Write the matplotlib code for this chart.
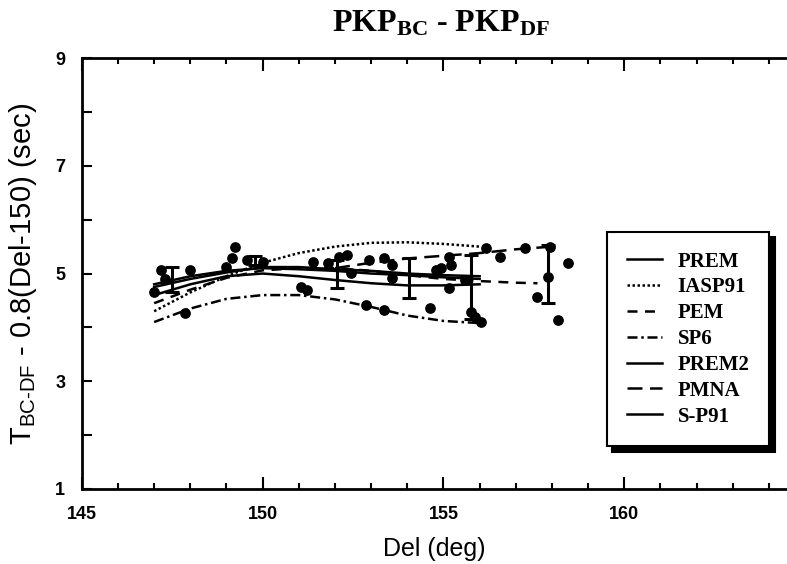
import matplotlib
matplotlib.use("Agg")
from matplotlib import pyplot as plt
from matplotlib.ticker import FixedLocator, MultipleLocator

plt.rcParams['mathtext.fontset'] = 'custom'
plt.rcParams['mathtext.bf'] = 'Liberation Serif:bold'
plt.rcParams['mathtext.sf'] = 'Liberation Sans'
plt.rcParams['mathtext.rm'] = 'Liberation Sans'

# observed differential times
obs_del = [147.0, 147.2, 147.3, 147.84, 147.98, 149.0, 149.16, 149.24, 149.57, 150.0,
           151.06, 151.23, 151.4, 151.8, 152.1, 152.33, 152.44, 152.85, 152.93, 153.35,
           153.57, 153.57, 153.35, 154.64, 154.78, 154.92, 155.14, 155.22, 155.14, 155.6,
           155.77, 155.88, 156.05, 156.18, 156.57, 157.26, 157.9, 157.6, 158.44, 158.17,
           157.95]
obs_t = [4.66, 5.07, 4.9, 4.27, 5.07, 5.12, 5.29, 5.49, 5.25, 5.22,
         4.75, 4.7, 5.22, 5.2, 5.31, 5.35, 5.01, 4.42, 5.25, 5.29,
         5.16, 4.92, 4.32, 4.36, 5.07, 5.1, 5.31, 5.16, 4.73, 4.88,
         4.29, 4.19, 4.1, 5.47, 5.31, 5.47, 4.94, 4.57, 5.2, 4.14,
         5.5]

# binned means with error bars
bin_del = [147.5, 149.8, 152.05, 154.05, 155.75, 157.9]
bin_mean = [4.89, 5.24, 4.99, 4.92, 4.75, 4.99]
bin_err = [0.23, 0.08, 0.26, 0.37, 0.6, 0.54]

# model curves
mod_del = [147, 148, 149, 150, 151, 152, 153, 154, 155, 156]
prem = [4.8, 4.95, 5.05, 5.1, 5.08, 5.05, 5.0, 4.97, 4.93, 4.9]
iasp91 = [4.3, 4.65, 4.95, 5.2, 5.38, 5.5, 5.57, 5.58, 5.55, 5.5]
pem_del = [147, 148, 149, 150, 151, 152, 153, 154, 155, 156, 157, 157.6]
pem = [4.45, 4.7, 4.92, 5.06, 5.1, 5.1, 5.05, 4.97, 4.9, 4.86, 4.83, 4.82]
sp6 = [4.1, 4.35, 4.53, 4.6, 4.6, 4.52, 4.38, 4.22, 4.12, 4.08]
prem2 = [4.6, 4.8, 4.95, 5.0, 4.95, 4.88, 4.82, 4.78, 4.78, 4.8]
pmna_del = [152, 153, 154, 155, 156, 157, 158]
pmna = [5.1, 5.2, 5.28, 5.33, 5.38, 5.45, 5.5]
sp91 = [4.75, 4.9, 5.02, 5.12, 5.12, 5.08, 5.05, 5.0, 4.97, 4.95]

fig = plt.figure(figsize=(7.87, 5.64), dpi=100)
ax = fig.add_axes([0.104, 0.133, 0.896, 0.764])

ax.plot(mod_del, prem, color='black', lw=1.8, label='PREM')
ax.plot(mod_del, iasp91, color='black', lw=1.8, ls=(0, (1, 1)), label='IASP91')
ax.plot(pem_del, pem, color='black', lw=1.8, ls=(0, (4, 3)), label='PEM')
ax.plot(mod_del, sp6, color='black', lw=1.8, ls=(0, (4, 1.5, 1, 1.5)), label='SP6')
ax.plot(mod_del, prem2, color='black', lw=1.8, label='PREM2')
ax.plot(pmna_del, pmna, color='black', lw=1.8, ls=(0, (6, 3)), label='PMNA')
ax.plot(mod_del, sp91, color='black', lw=1.8, label='S-P91')

ax.scatter(obs_del, obs_t, s=45, color='black', zorder=3)
ax.errorbar(bin_del, bin_mean, yerr=bin_err, fmt='none', ecolor='black',
            elinewidth=2.2, capsize=5, capthick=2.2, zorder=3)

ax.set_xlim(145, 164.5)
ax.set_ylim(1, 9)
ax.xaxis.set_major_locator(MultipleLocator(5))
ax.xaxis.set_minor_locator(MultipleLocator(1))
ax.yaxis.set_major_locator(FixedLocator([1, 3, 5, 7, 9]))
ax.yaxis.set_minor_locator(FixedLocator([2, 4, 6, 8]))
ax.tick_params(axis='x', which='major', direction='in', length=9, width=1.5,
               top=True, labelsize=13, pad=12)
ax.tick_params(axis='x', which='minor', direction='in', length=4, width=1.5, top=True)
ax.tick_params(axis='y', which='both', direction='in', length=7, width=1.5,
               labelsize=13, pad=12)
for lab in ax.get_xticklabels() + ax.get_yticklabels():
    lab.set_fontfamily('Liberation Sans')
    lab.set_fontweight('bold')
ax.spines['right'].set_visible(False)
for s in ['left', 'bottom', 'top']:
    ax.spines[s].set_linewidth(2)

ax.set_xlabel('Del (deg)', fontsize=18, fontfamily='Liberation Sans', labelpad=10)
ax.set_ylabel(r'T$_{\mathsf{BC\text{-}DF}}$ - 0.8(Del-150) (sec)', fontsize=21,
              fontfamily='Liberation Sans', labelpad=12)

fig.text(0.56, 0.958, r'$\mathbf{PKP_{BC}}$ - $\mathbf{PKP_{DF}}$',
         ha='center', va='center', fontsize=23, fontfamily='Liberation Serif',
         fontweight='bold')

leg = ax.legend(loc='upper left', bbox_to_anchor=(0.771, 0.589),
                bbox_transform=fig.transFigure, borderaxespad=0,
                fancybox=False, edgecolor='black', framealpha=1,
                shadow={'color': 'black', 'alpha': 1, 'ox': 4, 'oy': -4},
                prop={'family': 'Liberation Serif', 'weight': 'bold', 'size': 15},
                handlelength=1.7, handletextpad=0.75, labelspacing=0.28,
                borderpad=0.95)
leg.get_frame().set_linewidth(1.5)

fig.savefig('out.png', dpi=100)
